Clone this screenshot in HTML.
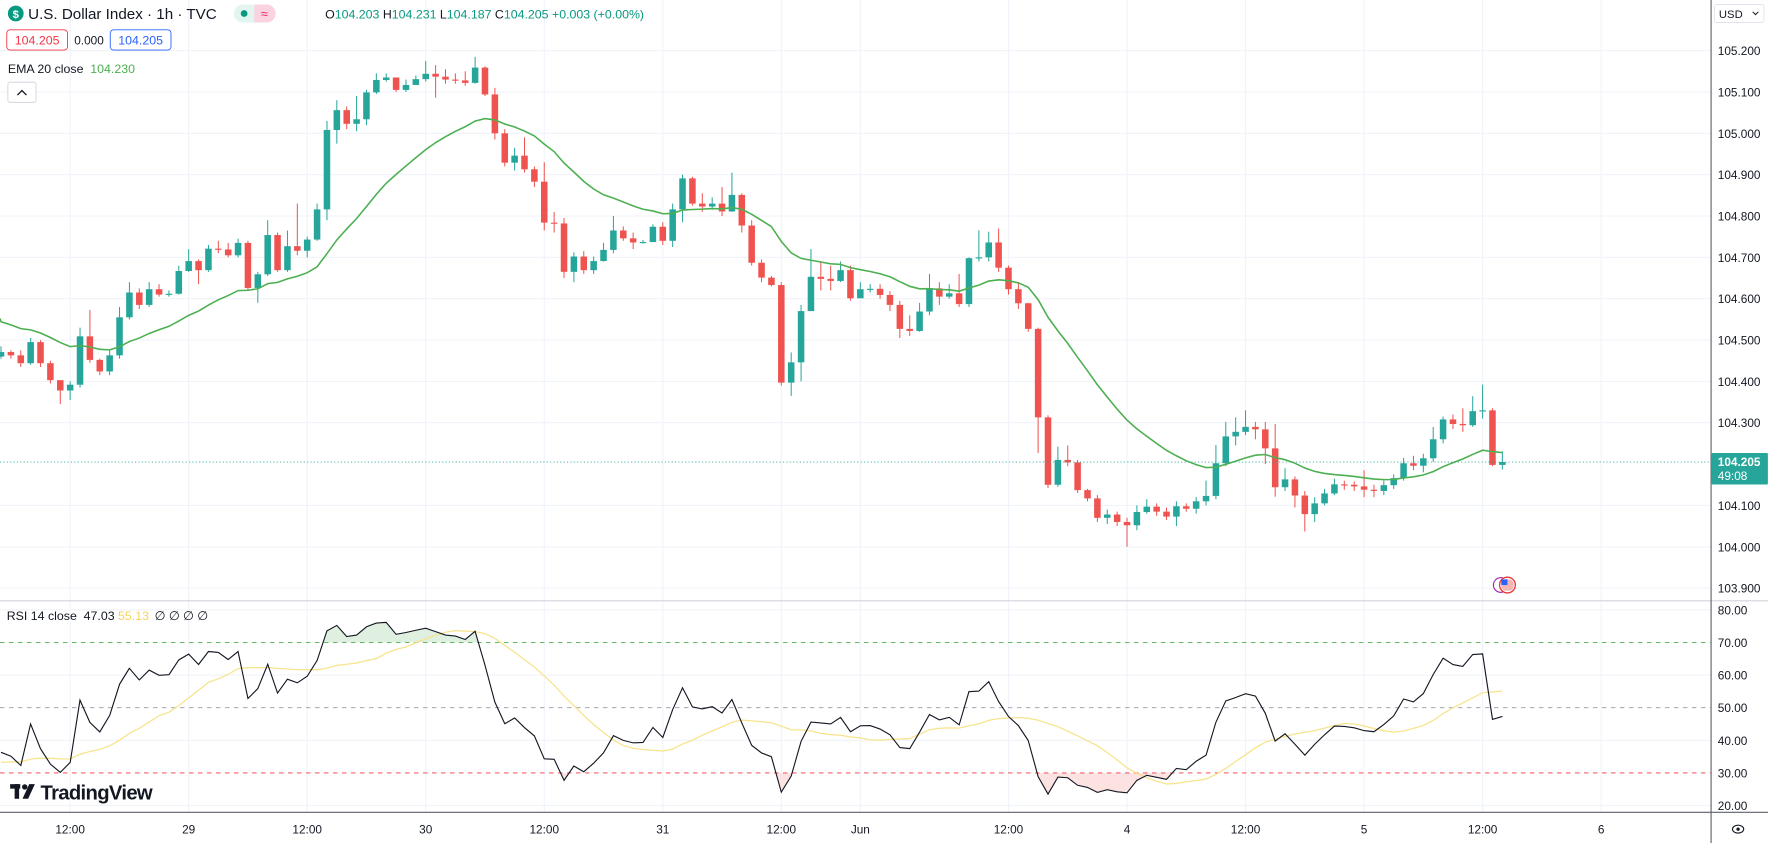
<!DOCTYPE html>
<html><head><meta charset="utf-8"><style>
html,body{margin:0;padding:0;background:#fff;}
svg{display:block;font-family:"Liberation Sans",sans-serif;}
</style></head><body>
<svg id="chart" width="1768" height="843" viewBox="0 0 1571.6 749.3" preserveAspectRatio="none" xmlns="http://www.w3.org/2000/svg">
<rect x="0" y="0" width="1571.6" height="749.3" fill="#ffffff"/>
<g id="grid"></g>
<g id="rsiFill"></g>
<g id="candles"></g>
<g id="overlay"></g>
<g id="axes"></g>

<g>
  <circle cx="14" cy="12" r="7" fill="#089981"/>
  <text x="14" y="16" font-size="10" font-weight="bold" fill="#fff" text-anchor="middle">$</text>
  <text x="25" y="17" font-size="13.5" fill="#131722">U.S. Dollar Index · 1h · TVC</text>
  <g>
    <rect x="208" y="4" width="37" height="16" rx="8" fill="#e3f5f1"/>
    <rect x="226" y="4" width="19" height="16" rx="8" fill="#fbd3e0"/>
    <rect x="226" y="4" width="8" height="16" fill="#fbd3e0"/>
    <circle cx="217" cy="12" r="3" fill="#089981"/>
    <text x="235" y="16" font-size="11" fill="#e91e63" text-anchor="middle">≈</text>
  </g>
  <text x="289" y="16.5" font-size="11" fill="#131722">O<tspan fill="#089981">104.203</tspan> H<tspan fill="#089981">104.231</tspan> L<tspan fill="#089981">104.187</tspan> C<tspan fill="#089981">104.205</tspan> <tspan fill="#089981">+0.003 (+0.00%)</tspan></text>
  <rect x="6" y="26.5" width="54" height="18" rx="3" fill="#fff" stroke="#f23645" stroke-width="0.8"/>
  <text x="33" y="39.5" font-size="11" fill="#f23645" text-anchor="middle">104.205</text>
  <text x="66" y="39.5" font-size="10.5" fill="#131722">0.000</text>
  <rect x="98" y="26.5" width="54" height="18" rx="3" fill="#fff" stroke="#2962ff" stroke-width="0.8"/>
  <text x="125" y="39.5" font-size="11" fill="#2962ff" text-anchor="middle">104.205</text>
  <text x="7" y="65" font-size="11" fill="#131722">EMA 20 close <tspan dx="3" fill="#4caf50">104.230</tspan></text>
  <rect x="7" y="73" width="25" height="18" rx="2" fill="#fff" stroke="#d1d4dc" stroke-width="0.8"/>
  <path d="M15.5 84.5 L19.5 80.5 L23.5 84.5" fill="none" stroke="#131722" stroke-width="1.2"/>
  <text x="6" y="551" font-size="11" fill="#131722">RSI 14 close <tspan dx="3">47.03</tspan> <tspan fill="#f2d55b">55.13</tspan> <tspan dx="2">∅ ∅ ∅ ∅</tspan></text>
  <g>
    <rect x="9" y="697" width="9" height="4" fill="#131722"/>
    <rect x="13" y="697" width="4" height="13" fill="#131722"/>
    <circle cx="22" cy="699.5" r="2.4" fill="#131722"/>
    <polygon points="26,697 31,697 25,710 20,710" fill="#131722"/>
    <text x="36" y="710.5" font-size="18" font-weight="bold" fill="#131722" letter-spacing="-0.6">TradingView</text>
  </g>
  <rect x="1524" y="4" width="44" height="16" rx="2" fill="#fff" stroke="#e0e3eb" stroke-width="0.8"/>
  <text x="1528" y="16" font-size="10" fill="#131722">USD</text>
  <path d="M1558 10.5 L1560.5 13 L1563 10.5" fill="none" stroke="#131722" stroke-width="0.9"/>
  <g>
    <circle cx="1334" cy="520" r="6.5" fill="#fff" stroke="#9c27b0" stroke-width="1"/>
    <circle cx="1340" cy="520" r="7" fill="#fff" stroke="#e53935" stroke-width="1.2"/>
    <rect x="1334.5" y="515" width="11" height="10" rx="4" fill="#f5b5b5"/>
    <rect x="1334.5" y="515" width="5.5" height="5" fill="#2962ff"/>
  </g>
  <g>
    <ellipse cx="1545" cy="737" rx="5" ry="3.5" fill="none" stroke="#131722" stroke-width="1"/>
    <circle cx="1545" cy="737" r="1.5" fill="#131722"/>
  </g>
</g>
</svg>
<script>
const firstOpen = 104.460;
const closes = [104.471,104.463,104.444,104.495,104.444,104.403,104.378,104.392,104.509,104.452,
104.424,104.463,104.555,104.615,104.585,104.623,104.610,104.612,104.667,104.691,
104.669,104.721,104.719,104.705,104.735,104.626,104.659,104.754,104.669,104.727,
104.716,104.743,104.816,105.008,105.056,105.023,105.034,105.099,105.129,105.135,
105.105,105.117,105.131,105.144,105.137,105.130,105.128,105.122,105.159,105.094,
105.000,104.929,104.946,104.913,104.883,104.784,104.782,104.665,104.702,104.669,
104.691,104.718,104.765,104.746,104.736,104.737,104.774,104.740,104.816,104.891,
104.830,104.823,104.830,104.811,104.851,104.777,104.687,104.651,104.633,104.397,
104.446,104.570,104.653,104.648,104.643,104.669,104.601,104.623,104.624,104.609,
104.585,104.527,104.522,104.569,104.625,104.605,104.613,104.587,104.698,104.700,
104.736,104.675,104.623,104.589,104.527,104.313,104.150,104.210,104.204,104.137,
104.117,104.070,104.078,104.060,104.052,104.084,104.097,104.085,104.073,104.098,
104.092,104.110,104.123,104.202,104.267,104.278,104.290,104.284,104.238,104.144,
104.163,104.124,104.079,104.105,104.129,104.151,104.150,104.146,104.138,104.135,
104.149,104.166,104.202,104.196,104.214,104.260,104.308,104.297,104.294,104.328,
104.330,104.198,104.205];
const highs = [104.485,104.475,104.475,104.505,104.500,104.450,104.395,104.400,104.530,104.573,
104.455,104.475,104.580,104.640,104.625,104.640,104.635,104.620,104.680,104.720,
104.695,104.730,104.740,104.735,104.745,104.740,104.665,104.790,104.760,104.765,
104.830,104.750,104.830,105.030,105.080,105.065,105.090,105.105,105.145,105.145,
105.135,105.130,105.140,105.175,105.165,105.155,105.145,105.150,105.185,105.162,
105.110,105.010,104.965,104.990,104.920,104.930,104.810,104.795,104.712,104.715,
104.702,104.735,104.800,104.775,104.760,104.742,104.780,104.785,104.830,104.900,
104.895,104.855,104.845,104.870,104.905,104.855,104.790,104.695,104.655,104.640,
104.470,104.585,104.720,104.690,104.680,104.690,104.680,104.640,104.635,104.635,
104.618,104.595,104.560,104.590,104.660,104.640,104.635,104.660,104.700,104.765,
104.762,104.770,104.680,104.640,104.590,104.530,104.318,104.242,104.245,104.210,
104.140,104.125,104.090,104.085,104.070,104.100,104.115,104.105,104.095,104.110,
104.105,104.120,104.160,104.246,104.302,104.313,104.330,104.302,104.302,104.297,
104.190,104.170,104.135,104.120,104.140,104.165,104.160,104.158,104.185,104.150,
104.160,104.175,104.215,104.220,104.225,104.290,104.315,104.320,104.335,104.364,
104.392,104.335,104.231];
const lows = [104.455,104.455,104.435,104.440,104.435,104.395,104.345,104.355,104.385,104.445,
104.415,104.415,104.455,104.550,104.575,104.580,104.605,104.605,104.610,104.665,
104.635,104.665,104.710,104.700,104.700,104.620,104.590,104.655,104.665,104.665,
104.705,104.700,104.740,104.790,104.975,105.010,105.005,105.020,105.095,105.125,
105.100,105.100,105.120,105.125,105.086,105.120,105.120,105.115,105.120,105.090,
104.985,104.920,104.910,104.905,104.870,104.765,104.760,104.650,104.640,104.660,
104.660,104.690,104.710,104.740,104.720,104.734,104.740,104.730,104.725,104.785,
104.825,104.810,104.815,104.800,104.810,104.760,104.680,104.640,104.630,104.390,
104.365,104.400,104.570,104.620,104.620,104.640,104.595,104.610,104.615,104.600,
104.570,104.505,104.510,104.520,104.560,104.585,104.600,104.580,104.580,104.690,
104.690,104.665,104.610,104.575,104.520,104.227,104.142,104.145,104.195,104.130,
104.110,104.060,104.055,104.050,104.000,104.040,104.080,104.075,104.065,104.050,
104.085,104.080,104.100,104.115,104.195,104.245,104.270,104.260,104.200,104.121,
104.135,104.095,104.037,104.060,104.100,104.125,104.138,104.135,104.120,104.120,
104.125,104.140,104.160,104.185,104.180,104.205,104.250,104.285,104.278,104.290,
104.310,104.195,104.187];
const emaSeed = 104.552;
const rsiSeedGain = 0.006, rsiSeedLoss = 0.012;
const priceTicks = [105.2,105.1,105.0,104.9,104.8,104.7,104.6,104.5,104.4,104.3,104.1,104.0,103.9];
const rsiTicks = [80,70,60,50,40,30,20];
const timeLabels = ["12:00","29","12:00","30","12:00","31","12:00","Jun","12:00","4","12:00","5","12:00","6"];
const timeLabelIdx = [7,19,31,43,55,67,79,87,102,114,126,138,150,162];

const X0 = 0.9, DX = 8.78;
function xs(i){ return X0 + i*DX; }
function yp(p){ return 45 + (105.2 - p)*367.5; }
function yr(v){ return 542 + (80 - v)*2.9; }
const NS = "http://www.w3.org/2000/svg";
function mk(tag, attrs, parent){
  const e = document.createElementNS(NS, tag);
  for (const a in attrs) e.setAttribute(a, attrs[a]);
  parent.appendChild(e);
  return e;
}
const grid = document.getElementById('grid');
const candlesG = document.getElementById('candles');
const overlay = document.getElementById('overlay');
const axes = document.getElementById('axes');
const fillG = document.getElementById('rsiFill');
const PW = 1521;

timeLabelIdx.forEach((ti) => {
  const l = mk('line', {x1:xs(ti), x2:xs(ti), y1:0, y2:722, stroke:'#f0f3fa', 'stroke-width':1}, grid);
  
  
});
priceTicks.forEach(p => {
  const l = mk('line', {x1:0, x2:PW, y1:yp(p), y2:yp(p), stroke:'#f0f3fa', 'stroke-width':1}, grid);
  
  
});
rsiTicks.forEach(v => {
  if (v===70||v===50||v===30) return;
  const l = mk('line', {x1:0, x2:PW, y1:yr(v), y2:yr(v), stroke:'#f0f3fa', 'stroke-width':1}, grid);
  
  
});

for (let i=0;i<closes.length;i++){
  const o = i===0 ? firstOpen : closes[i-1];
  const c = closes[i];
  const up = c >= o;
  const col = up ? '#26a69a' : '#ef5350';
  const x = xs(i);
  const w = mk('line', {x1:x, x2:x, y1:yp(highs[i]), y2:yp(lows[i]), stroke:col, 'stroke-width':0.9}, candlesG);
  
  
  const top = yp(Math.max(o,c)), bot = yp(Math.min(o,c));
  const b = mk('rect', {x:x-2.9, y:top, width:5.8, height:Math.max(1, bot-top), fill:col}, candlesG);
  
  
}

let ema = emaSeed; const kEma = 2/21; const emaPts = [];
for (let i=0;i<closes.length;i++){ ema = closes[i]*kEma + ema*(1-kEma); emaPts.push(xs(i).toFixed(1)+','+yp(ema).toFixed(1)); }
const emaLine = mk('polyline', {points:'0,'+yp(emaSeed).toFixed(1)+' '+emaPts.join(' '), fill:'none', stroke:'#4caf50', 'stroke-width':1.4}, overlay);



const lp = closes[closes.length-1];
const pl = mk('line', {x1:0, x2:PW, y1:yp(lp), y2:yp(lp), stroke:'#26a69a', 'stroke-width':0.8, 'stroke-dasharray':'1,2'}, overlay);



let ag = rsiSeedGain, al = rsiSeedLoss; const rsi = [];
for (let i=0;i<closes.length;i++){
  const prev = i===0 ? firstOpen : closes[i-1];
  const d = closes[i]-prev;
  ag = (ag*13 + Math.max(d,0))/14; al = (al*13 + Math.max(-d,0))/14;
  rsi.push(al===0 ? 100 : 100 - 100/(1+ag/al));
}
const rsiMa = [];
for (let i=0;i<rsi.length;i++){
  let s=0; for (let j=i-13;j<=i;j++) s += j<0 ? 33 : rsi[j];
  rsiMa.push(s/14);
}
[[70,'#4caf50'],[50,'#9598a1'],[30,'#f23645']].forEach(([v,c]) => {
  const l = mk('line', {x1:0, x2:PW, y1:yr(v), y2:yr(v), stroke:c, 'stroke-width':0.8, 'stroke-dasharray':'4,4'}, overlay);
  
  
});
const rsiPts = rsi.map((v,i)=>xs(i).toFixed(1)+','+yr(v).toFixed(1)).join(' ');
const defs = mk('defs', {}, fillG);
const c1 = mk('clipPath', {id:'above70'}, defs); mk('rect', {x:0,y:0,width:PW,height:yr(70)}, c1);
const c2 = mk('clipPath', {id:'below30'}, defs); mk('rect', {x:0,y:yr(30),width:PW,height:40}, c2);
const xa = xs(0).toFixed(1), xb = xs(rsi.length-1).toFixed(1);
const f1 = mk('polygon', {points:xa+','+yr(70)+' '+rsiPts+' '+xb+','+yr(70), fill:'#dff0e0', 'clip-path':'url(#above70)'}, fillG);


const f2 = mk('polygon', {points:xa+','+yr(30)+' '+rsiPts+' '+xb+','+yr(30), fill:'#fde2e2', 'clip-path':'url(#below30)'}, fillG);


const maLine = mk('polyline', {points:rsiMa.map((v,i)=>xs(i).toFixed(1)+','+yr(v).toFixed(1)).join(' '), fill:'none', stroke:'#f7e38a', 'stroke-width':1.1}, overlay);


const rsiLine = mk('polyline', {points:rsiPts, fill:'none', stroke:'#131722', 'stroke-width':1}, overlay);



const sep = mk('line', {x1:0, x2:1571.6, y1:534, y2:534, stroke:'#d1d4dc', 'stroke-width':1}, axes);


const ta = mk('line', {x1:0, x2:1571.6, y1:722, y2:722, stroke:'#5d606b', 'stroke-width':1}, axes);


const pa = mk('line', {x1:PW, x2:PW, y1:0, y2:749.3, stroke:'#5d606b', 'stroke-width':1}, axes);


priceTicks.forEach(p => {
  const t = mk('text', {x:1527, y:yp(p)+4, 'font-size':10.5, fill:'#131722'}, axes);
  t.textContent = p.toFixed(3);
  
  
});
rsiTicks.forEach(v => {
  const t = mk('text', {x:1527, y:yr(v)+4, 'font-size':10.5, fill:'#131722'}, axes);
  t.textContent = v.toFixed(2);
  
  
});
timeLabels.forEach((s,i) => {
  const t = mk('text', {x:xs(timeLabelIdx[i]), y:741, 'font-size':10.5, fill:'#131722', 'text-anchor':'middle'}, axes);
  t.textContent = s;
  
  
});
const by = yp(lp);
const badge = mk('rect', {x:PW+0.5, y:by-8, width:50, height:28, rx:1, fill:'#26a69a'}, axes);


const bt = mk('text', {x:1527, y:by+3.5, 'font-size':10.5, 'font-weight':'bold', fill:'#fff'}, axes);
bt.textContent = lp.toFixed(3);


const bc = mk('text', {x:1527, y:by+16, 'font-size':10.5, fill:'#fff'}, axes);
bc.textContent = '49:08';


</script>
</body></html>
